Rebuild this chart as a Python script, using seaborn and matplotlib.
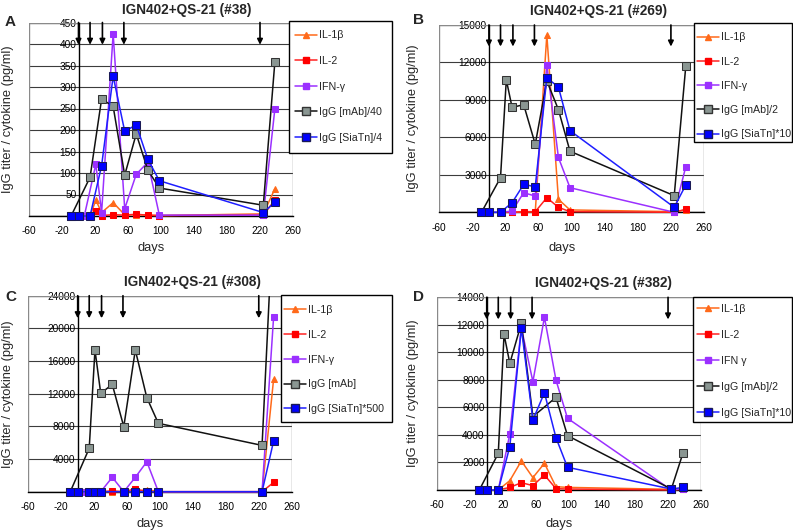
import numpy as np
import matplotlib
matplotlib.use("Agg")
import matplotlib.pyplot as plt
import seaborn as sns
from matplotlib.patches import Rectangle
from matplotlib.lines import Line2D

nan = np.nan

# sampling days (immunization schedule in weeks)
days = [-9, 0, 7, 14, 21, 28, 42, 56, 70, 84, 98, 224, 238]
boost_days = [0, 14, 29, 55, 220]

# panel A (#38)
a_il1b = [nan, nan, nan, 0, 37, 8, 31, 3, 3, 2, 1, 5, 63]
a_il2 = [nan, nan, nan, 0, 12, 1, 3, 2, 4, 2, 1, 2, 37]
a_ifn = [0, 0, 0, nan, 120, 8, 424, 17, 97, 125, 2, 2, 249]
a_mab = [0, nan, nan, 90, nan, 272, 255, 95, 191, 107, 65, 25, 358]
a_siatn = [0, 0, nan, 0, nan, 117, 325, 197, 212, 132, 82, 8, 32]

# panel B (#269)
b_il1b = [nan, nan, nan, 0, nan, 0, 30, 30, 14200, 1040, 190, 50, 190]
b_il2 = [nan, nan, nan, 0, nan, 0, 50, 50, 1170, 400, 50, 0, 240]
b_ifn = [0, 0, nan, 0, nan, 100, 1570, 1300, 11760, 4390, 1970, 0, 3660]
b_mab = [0, nan, nan, 2770, 10610, 8400, 8620, 5450, 10530, 8220, 4890, 1330, 11720]
b_siatn = [0, 0, nan, 0, nan, 770, 2230, 2050, 10770, 10030, 6540, 400, 2190]

# panel C (#308)
c_il1b = [nan, nan, nan, 0, 0, 0, 0, 0, 0, 250, 0, 0, 13760]
c_il2 = [nan, nan, nan, 0, 0, 0, 100, 0, 350, 0, 0, 0, 1140]
c_ifn = [0, 0, 0, 0, nan, 0, 1760, 0, 1760, 3670, 0, 0, 21350]
c_mab = [0, nan, nan, 5310, 17350, 12040, 13140, 7960, 17350, 11510, 8370, 5670, 35000]
c_siatn = [0, 0, nan, 0, 0, 0, nan, 0, 0, 0, 0, 0, 6200]

# panel D (#382)
d_il1b = [nan, nan, nan, 0, nan, 680, 2110, 900, 1940, 240, 190, 50, 50]
d_il2 = [nan, nan, nan, 0, nan, 190, 530, 320, 1090, 100, 70, 0, 50]
d_ifn = [0, 0, nan, 0, nan, 4070, 11800, 7870, 12550, 7990, 5210, 0, 100]
d_mab = [0, nan, nan, 2660, 11310, 9200, 12110, 5330, nan, 6730, 3950, 70, 2660]
d_siatn = [0, 0, nan, 0, nan, 3150, 11750, 5090, 7070, 3800, 1650, 70, 190]

sns.set_theme(style="white")
plt.rcParams['font.family'] = ['Liberation Sans', 'DejaVu Sans']
plt.rcParams['axes.unicode_minus'] = False

W, H = 793, 532
fig = plt.figure(figsize=(W / 100, H / 100), dpi=100)


def fx(x):
    return x / W


def fy(y):
    return 1 - y / H


# line / marker styles, same order as the legend
styles = [
    dict(color='#FF6A1A', marker='^', markersize=5, markerfacecolor='#FF6A1A', markeredgecolor='#FF6A1A'),
    dict(color='#FF2222', marker='s', markersize=4, markerfacecolor='#FF0000', markeredgecolor='#FF0000'),
    dict(color='#9B30FF', marker='s', markersize=4, markerfacecolor='#9B30FF', markeredgecolor='#9B30FF'),
    dict(color='#111111', marker='s', markersize=6, markerfacecolor='#8A9692', markeredgecolor='#333333'),
    dict(color='#1E1EFF', marker='s', markersize=6, markerfacecolor='#0000FF', markeredgecolor='#1A1A55'),
]


def panel(box, letter, letter_xy, title, title_xy, ylab_x, xlab_y, ymax, ystep,
          series, labels, legbox, leg_xy, spacing, clip_mab=False):
    x0, y0, x1, y1 = box
    ax = fig.add_axes([fx(x0), fy(y1), (x1 - x0) / W, (y1 - y0) / H])
    ax.set_facecolor('white')
    for i, vals in enumerate(series):
        st = styles[i]
        clip = clip_mab and i == 3
        sns.lineplot(x=days, y=vals, ax=ax, legend=False, linewidth=1.1,
                     clip_on=clip, zorder=3 + i, **st)
    ax.set_xlim(-60, 260)
    ax.set_ylim(0, ymax)
    ax.set_xticks(np.arange(-60, 261, 40))
    ax.set_yticks(np.arange(0, ymax + 1, ystep))
    ax.set_xlabel('')
    ax.set_ylabel('')
    ax.yaxis.grid(True, color='#3c3c3c', linewidth=0.8)
    ax.xaxis.grid(False)
    ax.spines['left'].set_position(('data', 0))
    ax.spines['left'].set_color('black')
    ax.spines['left'].set_linewidth(1)
    ax.spines['bottom'].set_color('black')
    ax.spines['bottom'].set_linewidth(1)
    ax.spines['top'].set_visible(False)
    ax.spines['right'].set_visible(False)
    ax.add_patch(Rectangle((0, 0), 1, 1, transform=ax.transAxes, fill=False,
                           edgecolor='#8a8a8a', linewidth=1, zorder=1))
    ax.tick_params(axis='y', length=0, pad=1.5, labelsize=7.3, colors='black')
    ax.tick_params(axis='x', length=0, pad=7.5, labelsize=7.3, colors='black')
    for d in boost_days:
        ax.annotate('', xy=(d, ymax * 0.885), xytext=(d, ymax),
                    arrowprops=dict(arrowstyle='-|>', color='black', lw=1.2,
                                    mutation_scale=8, shrinkA=0, shrinkB=0),
                    annotation_clip=False, zorder=10)

    fig.text(fx(letter_xy[0]), fy(letter_xy[1]), letter, fontsize=11,
             fontweight='bold', ha='left', va='center')
    fig.text(fx(title_xy[0]), fy(title_xy[1]), title, fontsize=9.8,
             fontweight='bold', ha='center', va='center')
    fig.text(fx(ylab_x), fy((y0 + y1) / 2), 'IgG titer / cytokine (pg/ml)',
             fontsize=9.3, rotation=90, ha='center', va='center')
    fig.text(fx((x0 + x1) / 2 - 10), fy(xlab_y), 'days', fontsize=9.3,
             ha='center', va='center')

    lx0, ly0, lx1, ly1 = legbox
    fig.add_artist(Rectangle((fx(lx0), fy(ly1)), (lx1 - lx0) / W, (ly1 - ly0) / H,
                             transform=fig.transFigure, facecolor='white',
                             edgecolor='black', linewidth=1, zorder=3))
    handles = [Line2D([], [], linewidth=1.1, **st) for st in styles]
    fig.legend(handles, labels, loc='upper left',
               bbox_to_anchor=(fx(leg_xy[0]), fy(leg_xy[1])),
               bbox_transform=fig.transFigure, frameon=False, borderpad=0,
               borderaxespad=0, fontsize=7.7, handlelength=2.05,
               handletextpad=0.15, labelspacing=spacing).set_zorder(5)
    return ax


panel((29, 22.5, 293, 216), 'A', (5, 22), 'IGN402+QS-21 (#38)', (187, 10), 8, 248,
      450, 50, [a_il1b, a_il2, a_ifn, a_mab, a_siatn],
      ['IL-1β', 'IL-2', 'IFN-γ', 'IgG [mAb]/40', 'IgG [SiaTn]/4'],
      (289, 20.7, 392, 153), (295, 30.5), 1.45)

panel((439.3, 25, 704, 212.3), 'B', (413, 20), 'IGN402+QS-21 (#269)', (598, 10.7), 413, 248,
      15000, 3000, [b_il1b, b_il2, b_ifn, b_mab, b_siatn],
      ['IL-1β', 'IL-2', 'IFN-γ', 'IgG [mAb]/2', 'IgG [SiaTn]*10'],
      (694, 23, 792, 142), (697, 32.5), 1.33)

panel((28.3, 295.7, 291.7, 491.7), 'C', (5, 297), 'IGN402+QS-21 (#308)', (192, 282), 8, 524,
      24000, 4000, [c_il1b, c_il2, c_ifn, c_mab, c_siatn],
      ['IL-1β', 'IL-2', 'IFN-γ', 'IgG [mAb]', 'IgG [SiaTn]*500'],
      (281, 295, 392, 422), (284, 305), 1.38, clip_mab=True)

panel((437.3, 297.3, 701, 490), 'D', (413, 297), 'IGN402+QS-21 (#382)', (603, 283), 413, 524,
      14000, 2000, [d_il1b, d_il2, d_ifn, d_mab, d_siatn],
      ['IL-1β', 'IL-2', 'IFN γ', 'IgG [mAb]/2', 'IgG [SiaTn]*10'],
      (693, 297.3, 792, 422.3), (697, 304), 1.5)

fig.savefig('out.png', dpi=100, facecolor='white')
